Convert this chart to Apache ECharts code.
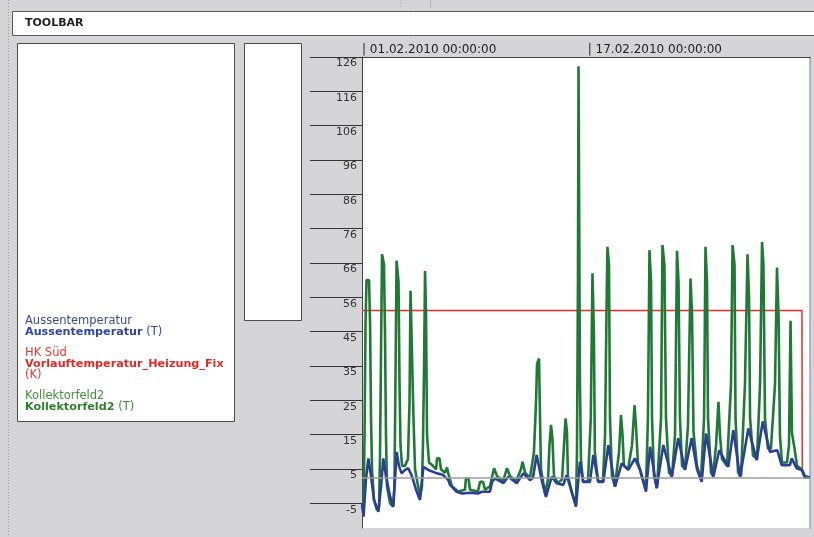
<!DOCTYPE html>
<html>
<head>
<meta charset="utf-8">
<title>Aussentemperatur / HK Süd / Kollektorfeld2</title>
<script src="https://cdn.jsdelivr.net/npm/echarts@6.0.0/dist/echarts.min.js"></script>
<style>
  html, body { margin: 0; padding: 0; background: #d5d5d7; }
  #main { width: 814px; height: 537px; }
</style>
</head>
<body>
<div id="main"></div>
<script>
// x = days since 01.02.2010 00:00:00
const xTickDays = [0, 16]
const xTickLabels = ['01.02.2010 00:00:00', '17.02.2010 00:00:00']
const yTickValues = [-5, 5.08, 15.15, 25.23, 35.31, 45.38, 55.46, 65.54, 75.62, 85.69, 95.77, 105.85, 115.92, 126]
const yTickLabels = ['-5', '5', '15', '25', '35', '45', '56', '66', '76', '86', '96', '106', '116', '126']
const refLineValue = 2.5

const aussenDays = [0.00, 0.11, 0.28, 0.45, 0.64, 0.85, 1.16, 1.35, 1.51, 1.70, 1.99, 2.22, 2.46, 2.62, 2.81, 3.05, 3.28, 3.54, 3.83, 4.11,
  4.35, 4.70, 5.18, 5.76, 6.12, 6.24, 6.71, 7.09, 7.66, 8.22, 8.51, 9.07, 9.22, 9.43, 10.02, 10.37, 10.97, 11.43, 11.91, 12.12,
  12.38, 12.74, 13.04, 13.45, 13.80, 14.27, 14.51, 14.82, 15.17, 15.45, 15.68, 16.16, 16.40, 16.75, 17.11, 17.46, 17.94, 18.41, 18.88, 19.35,
  19.71, 20.13, 20.42, 20.89, 21.36, 21.96, 22.42, 22.90, 23.37, 23.75, 24.08, 24.39, 24.91, 25.33, 25.97, 26.32, 26.80, 27.39, 27.98, 28.41,
  28.92, 29.44, 29.75, 30.34, 30.46, 30.81, 31.17, 31.40, 31.76]
const aussenVals = [-5, -8.9, 2, 8.2, 3, -4, -7.5, 0, 8.2, 3, -3, -6, 10.1, 6, 3.8, 4.8, 5.3, 3, -1, -4,
  5.7, 4.8, 4, 3.3, 1.8, 0.4, -1.6, -2.1, -1.9, -2.1, -1.6, -1.6, 1.3, 2.3, 0.9, 2.8, 0.9, 3.8, 1.8, 2.5,
  9.2, 1.8, -3.1, 2.8, 0.9, 0.4, 3.3, -1, -6, 7.2, 1.3, 1.3, 9.2, 1.3, 1.3, 12.1, -0.1, 6.7, 4.8, 8.2,
  4.8, -1.6, 11.6, -0.6, 12.1, 2.8, 14.1, 4.8, 14.1, 5, 1.3, 15.5, 2.8, 10.6, 5.7, 16.5, 2.8, 17, 7.7, 19,
  10.1, 10.6, 6.2, 6.2, 8.2, 5.3, 4.8, 2.6, 2.6]

const vorlaufDays = [0, 31.19, 31.21, 31.40, 31.76]
const vorlaufVals = [51.6, 51.6, 4.5, 2.6, 2.6]

const kollektorDays = [0.00, 0.11, 0.18, 0.25, 0.32, 0.50, 0.57, 0.64, 0.71, 0.85, 1.06, 1.21, 1.28, 1.35, 1.42, 1.56, 1.63, 1.70, 1.77, 1.99,
  2.20, 2.30, 2.37, 2.45, 2.59, 2.66, 2.73, 2.84, 3.05, 3.26, 3.37, 3.44, 3.58, 3.65, 3.76, 4.11, 4.25, 4.32, 4.40, 4.47,
  4.54, 4.61, 4.75, 5.03, 5.25, 5.32, 5.49, 5.60, 5.88, 6.03, 6.10, 6.38, 6.81, 7.30, 7.37, 7.55, 7.66, 8.22, 8.37, 8.58,
  8.72, 9.07, 9.36, 9.57, 10.00, 10.28, 10.49, 10.92, 11.27, 11.38, 11.56, 11.91, 12.19, 12.34, 12.41, 12.55, 12.62, 12.69, 12.97, 13.19,
  13.29, 13.40, 13.50, 13.61, 13.89, 14.18, 14.32, 14.43, 14.53, 14.60, 14.89, 15.17, 15.24, 15.31, 15.35, 15.42, 15.45, 15.52, 15.67, 16.02,
  16.22, 16.34, 16.44, 16.51, 16.73, 17.08, 17.23, 17.33, 17.40, 17.51, 17.58, 17.72, 17.93, 18.22, 18.36, 18.47, 18.57, 18.86, 19.14, 19.32,
  19.42, 19.56, 19.85, 20.13, 20.27, 20.38, 20.49, 20.56, 20.70, 20.91, 21.20, 21.30, 21.44, 21.55, 21.76, 21.98, 22.19, 22.33, 22.44, 22.54,
  22.69, 22.90, 23.11, 23.29, 23.40, 23.50, 23.75, 24.03, 24.25, 24.35, 24.46, 24.53, 24.74, 24.88, 25.10, 25.27, 25.38, 25.52, 25.88, 26.16,
  26.27, 26.41, 26.48, 26.66, 26.87, 27.15, 27.33, 27.44, 27.51, 27.72, 28.00, 28.22, 28.36, 28.46, 28.57, 28.78, 28.99, 29.28, 29.42, 29.53,
  29.63, 29.77, 30.13, 30.27, 30.38, 30.48, 30.63, 30.84, 31.19, 31.40, 31.76]
const kollektorVals = [-6, -7, 15, 48, 60.5, 60.5, 48, 20, 5, -4, -7, -6, 10, 40, 68.1, 65, 45, 15, 0, -5,
  -6, 0, 30, 66.2, 60, 30, 12, 6, 6, 8, 25, 57.4, 57.4, 20, 5, -3, 0, 12, 35, 63.2,
  50, 15, 7, 6, 5, 8.2, 8.2, 5, 4, 5.5, 4, 0, -1.5, -1, 2.3, 2.3, -1, -1.5, 1.3, 1.3,
  -1, 0, 5.3, 3, 1.5, 5.3, 3, 1.5, 5, 7.2, 4, 2.5, 10, 25, 36, 37.5, 20, 5, -2, 2,
  12, 18, 14, 3, 1, 2, 12, 19.9, 16, 3, -2, -5.5, 10, 60, 123.3, 123.3, 30, 8, 1.3, 1.5,
  20, 62.5, 45, 10, 1.5, 1.5, 15, 50, 70.3, 65, 20, 3, 0, 10, 20.9, 15, 6, 5, 12, 23.8,
  18, 7, 3, -1, 20, 69.3, 60, 20, 3, -0.5, 20, 70.8, 65, 20, 4, 3, 15, 69.1, 60, 20,
  6, 5, 18, 61, 50, 16, 6, 2, 20, 70.3, 60, 20, 4, 3, 12, 24.8, 15, 8, 6, 30,
  70.8, 65, 20, 4, 3, 30, 68.1, 55, 20, 9, 8, 30, 71.7, 65, 20, 11, 11, 30, 64.2, 50,
  15, 7, 7, 12, 48.6, 15.6, 12, 6, 5, 3, 2.6]

function zip(xs, ys) {
  return xs.map((x, i) => [x, ys[i]])
}

var chartDom = document.getElementById('main')
var myChart = echarts.init(chartDom, null, { renderer: 'canvas' })

const uiFont = 'DejaVu Sans'

var option = {
  backgroundColor: '#d5d5d7',
  animation: false,
  textStyle: { fontFamily: uiFont },
  graphic: [
    { type: 'line', shape: { x1: 8.5, y1: 0, x2: 8.5, y2: 537 }, style: { stroke: '#9a9a9a', lineDash: [1, 2], lineWidth: 1 }, silent: true },
    { type: 'line', shape: { x1: 400.5, y1: 0, x2: 400.5, y2: 8 }, style: { stroke: '#b0b0b0', lineDash: [1, 2], lineWidth: 1 }, silent: true },
    { type: 'line', shape: { x1: 430.5, y1: 0, x2: 430.5, y2: 8 }, style: { stroke: '#b8b8b8', lineWidth: 1 }, silent: true },
    { type: 'rect', shape: { x: 12.5, y: 11.5, width: 810, height: 24 }, style: { fill: '#fff', stroke: '#5c5c5c', lineWidth: 1 }, silent: true },
    { type: 'text', left: 25, top: 18, style: { text: 'TOOLBAR', fill: '#222', font: 'bold 11px "DejaVu Sans"' }, silent: true },
    { type: 'rect', shape: { x: 17.5, y: 43.5, width: 217, height: 378 }, style: { fill: '#fff', stroke: '#4a4a4a', lineWidth: 1 }, silent: true },
    { type: 'rect', shape: { x: 244.5, y: 43.5, width: 57, height: 277 }, style: { fill: '#fff', stroke: '#4a4a4a', lineWidth: 1 }, silent: true }
  ],
  legend: {
    orient: 'vertical',
    left: 15,
    top: 310.5,
    itemWidth: 0,
    itemHeight: 0,
    itemGap: 9,
    icon: 'none',
    selectedMode: false,
    data: ['Aussentemperatur', 'Vorlauftemperatur_Heizung_Fix', 'Kollektorfeld2'],
    formatter: function (name) {
      if (name === 'Aussentemperatur') return '{bn|Aussentemperatur}\n{bb|Aussentemperatur}{bn| (T)}'
      if (name === 'Vorlauftemperatur_Heizung_Fix') return '{rn|HK Süd}\n{rb|Vorlauftemperatur_Heizung_Fix}\n{rn|(K)}'
      return '{gn|Kollektorfeld2}\n{gb|Kollektorfeld2}{gn| (T)}'
    },
    textStyle: {
      fontFamily: uiFont,
      fontSize: 11.5,
      lineHeight: 11,
      rich: {
        bn: { color: '#3a4b9d', fontSize: 11.5, lineHeight: 11, fontFamily: uiFont },
        bb: { color: '#34459a', fontSize: 11.2, lineHeight: 11, fontWeight: 'bold', fontFamily: uiFont },
        rn: { color: '#e8372f', fontSize: 11.5, lineHeight: 11, fontFamily: uiFont },
        rb: { color: '#e02a24', fontSize: 11.2, lineHeight: 11, fontWeight: 'bold', fontFamily: uiFont },
        gn: { color: '#3f8f3c', fontSize: 11.5, lineHeight: 11, fontFamily: uiFont },
        gb: { color: '#2f7f2f', fontSize: 11.2, lineHeight: 11, fontWeight: 'bold', fontFamily: uiFont }
      }
    }
  },
  grid: {
    left: 362,
    top: 57,
    right: 4,
    bottom: 9,
    show: true,
    backgroundColor: '#fff',
    borderWidth: 0
  },
  xAxis: {
    type: 'value',
    position: 'top',
    min: 0,
    max: 31.76,
    splitLine: { show: false },
    axisTick: { show: false },
    axisLine: { show: true, onZero: false, lineStyle: { color: '#444', width: 1 } },
    axisLabel: {
      customValues: xTickDays,
      align: 'left',
      margin: 1,
      color: '#222',
      fontSize: 12,
      fontFamily: uiFont,
      formatter: function (v) {
        var i = xTickDays.indexOf(v)
        return i < 0 ? '' : '| ' + xTickLabels[i]
      }
    }
  },
  yAxis: [
    {
      type: 'value',
      min: -12.24,
      max: 126,
      splitLine: { show: false },
      axisLine: { show: true, onZero: false, lineStyle: { color: '#444', width: 1 } },
      axisTick: { show: true, customValues: yTickValues, length: 52, lineStyle: { color: '#333', width: 1 } },
      axisLabel: {
        customValues: yTickValues,
        margin: 5,
        verticalAlign: 'top',
        padding: [1, 0, 0, 0],
        color: '#333',
        fontSize: 11,
        fontFamily: uiFont,
        formatter: function (v) {
          var i = yTickValues.indexOf(v)
          return i < 0 ? '' : yTickLabels[i]
        }
      }
    },
    {
      type: 'value',
      position: 'right',
      min: -12.24,
      max: 126,
      splitLine: { show: false },
      axisTick: { show: false },
      axisLabel: { show: false },
      axisLine: { show: true, onZero: false, lineStyle: { color: '#9aa0bb', width: 1.5 } }
    }
  ],
  series: [
    {
      name: 'Vorlauftemperatur_Heizung_Fix',
      type: 'line',
      z: 2,
      symbol: 'none',
      color: '#ee2a2a',
      lineStyle: { width: 1.5, color: '#ee2a2a' },
      data: zip(vorlaufDays, vorlaufVals),
      markLine: {
        silent: true,
        symbol: 'none',
        label: { show: false },
        lineStyle: { color: '#9c9c9c', width: 1.5, type: 'solid' },
        data: [{ yAxis: refLineValue }]
      }
    },
    {
      name: 'Kollektorfeld2',
      type: 'line',
      z: 3,
      symbol: 'none',
      color: '#1f7a36',
      lineStyle: { width: 2.6, color: '#1f7a36' },
      data: zip(kollektorDays, kollektorVals)
    },
    {
      name: 'Aussentemperatur',
      type: 'line',
      z: 4,
      symbol: 'none',
      color: '#2c3f95',
      lineStyle: { width: 2.6, color: '#2c3f95' },
      data: zip(aussenDays, aussenVals)
    }
  ]
}

option && myChart.setOption(option)
</script>
</body>
</html>
